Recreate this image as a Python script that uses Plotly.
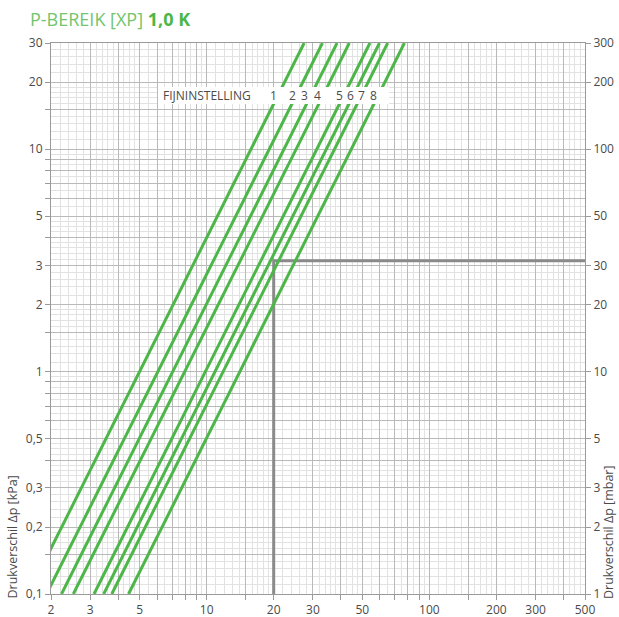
import numpy as np
import plotly.graph_objects as go

# ---------------- data ----------------
settings = ["1", "2", "3", "4", "5", "6", "7", "8"]
dp_low = 0.1      # kPa (bottom of chart)
dp_high = 30.0    # kPa (top of chart)
flow_at_dp_low = [1.58, 1.91, 2.23, 2.52, 3.12, 3.45, 3.75, 4.46]     # kg/h at 0.1 kPa
flow_at_dp_high = [27.4, 33.1, 38.5, 43.7, 54.1, 59.7, 65.0, 77.3]    # kg/h at 30 kPa

ref_flow = [20, 20, 500]
ref_dp = [0.1, 3.15, 3.15]

x_tick_vals = [2, 3, 5, 10, 20, 30, 50, 100, 200, 300, 500]
y_left_vals = [0.1, 0.2, 0.3, 0.5, 1, 2, 3, 5, 10, 20, 30]
y_left_text = ["0,1", "0,2", "0,3", "0,5", "1", "2", "3", "5", "10", "20", "30"]
y_right_vals = [1, 2, 3, 5, 10, 20, 30, 50, 100, 200, 300]
y_right_text = ["1", "2", "3", "5", "10", "20", "30", "50", "100", "200", "300"]

title_light = "P-BEREIK [XP] "
title_bold = "1,0 K"
label_text = "FIJNINSTELLING"
y_title_left = "Drukverschil Δp [kPa]"
y_title_right = "Drukverschil Δp [mbar]"

# ---------------- styling ----------------
W, H = 619, 617
# plot area in window pixels: left 51, right 585, top 43, bottom 594
PL, PR, PT, PB = 51, 585, 43, 594
ML, MT = PL, PT
MR, MB = W - PR, H - PB
PW, PH = PR - PL, PB - PT
GREEN = "#4cb748"
GREEN_LIGHT = "#72c46d"
GREY_REF = "#8a8a8a"
MAJOR_GRID = "#b9b9b9"
MINOR_GRID = "#e2e2e2"
FONT = "Open Sans"
TXT = "#4a4a4a"
# pixel x-centres of the setting numbers in the label row
label_px = [273, 292, 304.5, 317, 339, 350, 361, 373]
label_row_py = 96


def px2paper_x(px):
    return (px - PL) / PW


def px2paper_y(py):
    return (PB - py) / PH


def grid_values(lo, hi):
    major, minor = [], []
    for e in range(-2, 4):
        base = 10.0 ** e
        for m in [1, 1.5, 2, 3, 4, 5, 6, 7, 8, 9]:
            major.append(m * base)
        subs = ([1.1, 1.2, 1.3, 1.4, 1.6, 1.7, 1.8, 1.9] +
                [2.2, 2.4, 2.6, 2.8] + [3.2, 3.4, 3.6, 3.8] +
                [4.25, 4.5, 4.75] + [5.5, 6.5, 7.5, 8.5, 9.5])
        for m in subs:
            minor.append(m * base)
    major = [round(v, 6) for v in major if lo * 0.999 <= v <= hi * 1.001]
    minor = [round(v, 6) for v in minor if lo * 0.999 <= v <= hi * 1.001]
    return major, minor


x_major, x_minor = grid_values(2, 500)
y_major, y_minor = grid_values(0.1, 30)


def tick_text(vals, labelled, texts=None):
    out = []
    for v in vals:
        hit = [i for i, L in enumerate(labelled) if abs(L - v) < 1e-9 * max(1, v)]
        if hit:
            out.append(texts[hit[0]] if texts else str(labelled[hit[0]]))
        else:
            out.append("")
    return out


fig = go.Figure()

# reference reading line
fig.add_trace(go.Scatter(x=ref_flow, y=ref_dp, mode="lines",
                         line=dict(color=GREY_REF, width=3),
                         showlegend=False, hoverinfo="skip"))

# characteristic lines
for s, f0, f1 in zip(settings, flow_at_dp_low, flow_at_dp_high):
    fig.add_trace(go.Scatter(x=[f0, f1], y=[dp_low, dp_high], mode="lines",
                             line=dict(color=GREEN, width=3),
                             name=s, showlegend=False, hoverinfo="skip"))

# invisible trace to activate right axis
fig.add_trace(go.Scatter(x=[ref_flow[-1]], y=[ref_dp[-1] * 10], yaxis="y2",
                         mode="markers", marker=dict(opacity=0),
                         showlegend=False, hoverinfo="skip"))

# labels of the settings in the label row
for s, px in zip(settings, label_px):
    fig.add_annotation(x=px2paper_x(px), y=px2paper_y(label_row_py),
                       xref="paper", yref="paper",
                       text=s, showarrow=False, xanchor="center", yanchor="middle",
                       font=dict(family=FONT, size=12, color=TXT))

fig.add_annotation(x=px2paper_x(161), y=px2paper_y(label_row_py), xref="paper", yref="paper",
                   text=label_text, showarrow=False, xanchor="left", yanchor="middle",
                   font=dict(family=FONT, size=12, color=TXT))

# white label box
fig.add_shape(type="rect", xref="paper", yref="paper",
              x0=px2paper_x(158), x1=px2paper_x(389),
              y0=px2paper_y(104), y1=px2paper_y(87),
              fillcolor="white", line=dict(width=0), layer="above")

# axis titles
fig.add_annotation(x=px2paper_x(12), y=px2paper_y(601), xref="paper", yref="paper",
                   text=y_title_left, textangle=-90, showarrow=False,
                   xanchor="center", yanchor="bottom",
                   font=dict(family=FONT, size=12.5, color=TXT))
fig.add_annotation(x=px2paper_x(608), y=px2paper_y(601), xref="paper", yref="paper",
                   text=y_title_right, textangle=-90, showarrow=False,
                   xanchor="center", yanchor="bottom",
                   font=dict(family=FONT, size=12.5, color=TXT))

axis_common = dict(type="log", showline=True, linecolor="#9a9a9a", linewidth=1,
                   ticks="outside", ticklen=5, tickcolor="#9a9a9a",
                   tickfont=dict(family=FONT, size=12, color=TXT),
                   zeroline=False, automargin=False)

fig.update_layout(
    width=W, height=H,
    margin=dict(l=ML, r=MR, t=MT, b=MB, pad=0, autoexpand=False),
    paper_bgcolor="white", plot_bgcolor="white",
    title=dict(text=f"<span style='color:{GREEN_LIGHT}'>{title_light}</span>"
                    f"<span style='color:{GREEN}'><b>{title_bold}</b></span>",
               x=30 / W, xanchor="left", y=1 - 20 / H, yanchor="middle",
               font=dict(family=FONT, size=18)),
    xaxis=dict(range=[np.log10(2), np.log10(500)],
               tickvals=x_major, ticktext=tick_text(x_major, x_tick_vals),
               showgrid=True, gridcolor=MAJOR_GRID, gridwidth=1,
               minor=dict(tickvals=x_minor, showgrid=True, gridcolor=MINOR_GRID,
                          gridwidth=1, ticks=""),
               mirror=True, **axis_common),
    yaxis=dict(range=[np.log10(0.1), np.log10(30)],
               tickvals=y_major, ticktext=tick_text(y_major, y_left_vals, y_left_text),
               showgrid=True, gridcolor=MAJOR_GRID, gridwidth=1,
               minor=dict(tickvals=y_minor, showgrid=True, gridcolor=MINOR_GRID,
                          gridwidth=1, ticks=""),
               mirror=False, **axis_common),
    yaxis2=dict(range=[np.log10(1), np.log10(300)], overlaying="y", side="right",
                tickvals=y_right_vals, ticktext=y_right_text, showgrid=False,
                **axis_common),
    showlegend=False,
)

fig.write_html("out.html",
               config={"displayModeBar": False},
               post_script="document.body.style.margin='0';"
                           "document.body.style.overflow='hidden';")
